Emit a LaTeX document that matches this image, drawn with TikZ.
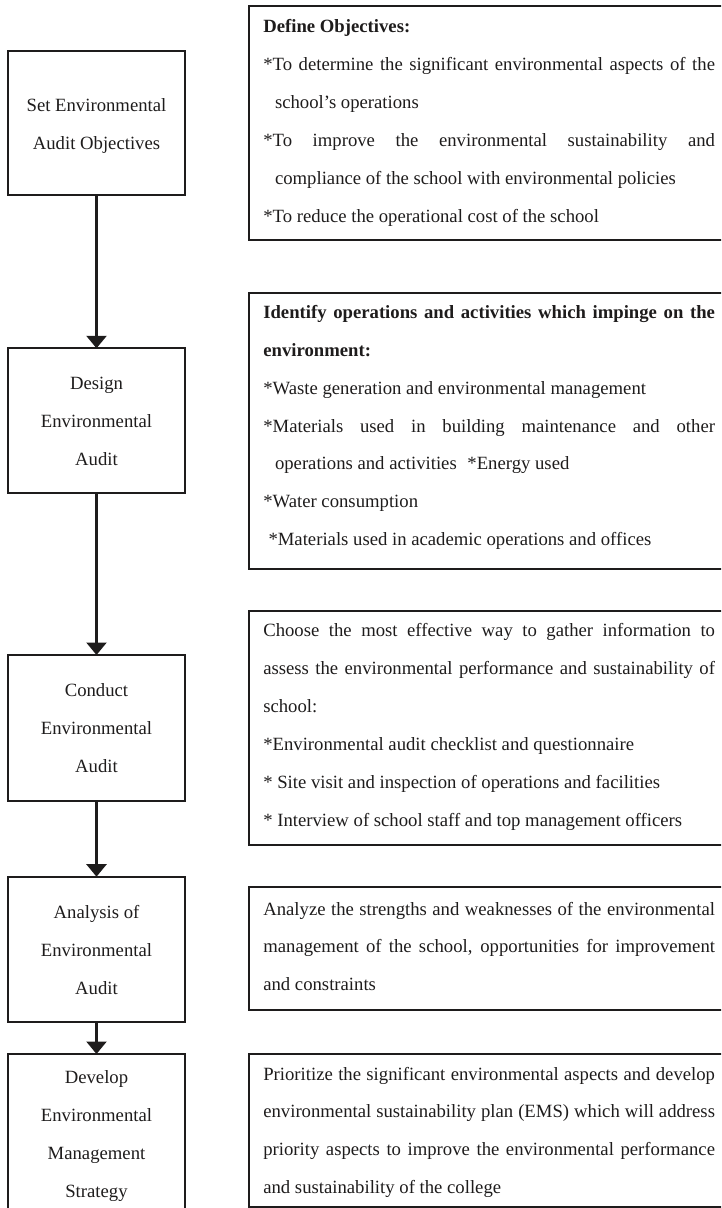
\documentclass[tikz,border=0pt]{standalone}
\usepackage{fontspec}
\setmainfont{Liberation Serif}
\usetikzlibrary{arrows.meta}
\definecolor{ink}{RGB}{30,28,28}
\newcommand\myfs{\fontsize{18.7pt}{37.9pt}\selectfont}
\newcommand\jl[1]{\makebox[451.7pt][s]{#1}}
\begin{document}
\begin{tikzpicture}[x=1pt,y=-1pt,
  box/.style={draw=ink, line width=2pt, inner sep=0pt, outer sep=0pt},
  lt/.style={font=\myfs, text=ink, anchor=base, inner sep=0pt, outer sep=0pt},
  rt/.style={font=\myfs, text=ink, anchor=base west, inner sep=0pt, outer sep=0pt},
  arr/.style={draw=ink, line width=2.3pt, -{Triangle[width=20pt,length=12.5pt]}}]
\useasboundingbox (0,0) rectangle (721,1208);
\clip (0,0) rectangle (721,1208);

% left step boxes
\node[box, minimum width=177pt, minimum height=144.3pt] (L1) at (96.5,122.85) {};
\node[box, minimum width=177pt, minimum height=144.7pt] (L2) at (96.5,420.65) {};
\node[box, minimum width=177pt, minimum height=145.7pt] (L3) at (96.5,727.85) {};
\node[box, minimum width=177pt, minimum height=145.3pt] (L4) at (96.5,949.35) {};
\node[box, minimum width=177pt, minimum height=176pt] (L5) at (96.5,1142) {};

\node[lt] (l1a) at (96.5,111) {Set Environmental};
\node[lt] (l1b) at (96.5,149) {Audit Objectives};

\node[lt] (l2a) at (96.5,389.3) {Design};
\node[lt] (l2b) at (96.5,427.3) {Environmental};
\node[lt] (l2c) at (96.5,465.5) {Audit};

\node[lt] (l3a) at (96.5,696.7) {Conduct};
\node[lt] (l3b) at (96.5,734.5) {Environmental};
\node[lt] (l3c) at (96.5,772.5) {Audit};

\node[lt] (l4a) at (96.5,918) {Analysis of};
\node[lt] (l4b) at (96.5,956) {Environmental};
\node[lt] (l4c) at (96.5,994) {Audit};

\node[lt] (l5a) at (96.5,1083) {Develop};
\node[lt] (l5b) at (96.5,1121) {Environmental};
\node[lt] (l5c) at (96.5,1159) {Management};
\node[lt] (l5d) at (96.5,1197) {Strategy};

% arrows
\draw[arr] (L1.south) -- (L2.north);
\draw[arr] (L2.south) -- (L3.north);
\draw[arr] (L3.south) -- (L4.north);
\draw[arr] (L4.south) -- (L5.north);

% right description boxes
\node[box, minimum width=490.7pt, minimum height=234pt] (R1) at (494.65,123) {};
\node[box, minimum width=490.7pt, minimum height=276.6pt] (R2) at (494.65,431) {};
\node[box, minimum width=490.7pt, minimum height=234pt] (R3) at (494.65,728) {};
\node[box, minimum width=490.7pt, minimum height=122.7pt] (R4) at (494.65,948.65) {};
\node[box, minimum width=490.7pt, minimum height=152.5pt] (R5) at (494.65,1130.25) {};

% R1 text
\node[rt] (r1a) at (263.3,32.7) {\bfseries Define Objectives:};
\node[rt] (r1b) at (263.3,70.6) {\jl{*To determine the significant environmental aspects of the}};
\node[rt] (r1c) at (275,108.5) {school’s operations};
\node[rt] (r1d) at (263.3,146.4) {\jl{*To improve the environmental sustainability and}};
\node[rt] (r1e) at (275,184.3) {compliance of the school with environmental policies};
\node[rt] (r1f) at (263.3,222.2) {*To reduce the operational cost of the school};

% R2 text
\node[rt] (r2a) at (263.3,318.3) {\bfseries\jl{Identify operations and activities which impinge on the}};
\node[rt] (r2b) at (263.3,356.2) {\bfseries environment:};
\node[rt] (r2c) at (263.3,394.1) {*Waste generation and environmental management};
\node[rt] (r2d) at (263.3,432) {\jl{*Materials used in building maintenance and other}};
\node[rt] (r2e) at (275,469.9) {operations and activities\hspace{6pt} *Energy used};
\node[rt] (r2f) at (263.3,507.8) {*Water consumption};
\node[rt] (r2g) at (268.5,545.7) {*Materials used in academic operations and offices};

% R3 text
\node[rt] (r3a) at (263.3,636.7) {\jl{Choose the most effective way to gather information to}};
\node[rt] (r3b) at (263.3,674.6) {\jl{assess the environmental performance and sustainability of}};
\node[rt] (r3c) at (263.3,712.5) {school:};
\node[rt] (r3d) at (263.3,750.4) {*Environmental audit checklist and questionnaire};
\node[rt] (r3e) at (263.3,788.3) {* Site visit and inspection of operations and facilities};
\node[rt] (r3f) at (263.3,826.2) {* Interview of school staff and top management officers};

% R4 text
\node[rt] (r4a) at (263.3,915) {\jl{Analyze the strengths and weaknesses of the environmental}};
\node[rt] (r4b) at (263.3,952.9) {\jl{management of the school, opportunities for improvement}};
\node[rt] (r4c) at (263.3,990.8) {and constraints};

% R5 text
\node[rt] (r5a) at (263.3,1080) {\jl{Prioritize the significant environmental aspects and develop}};
\node[rt] (r5b) at (263.3,1117.9) {\jl{environmental sustainability plan (EMS) which will address}};
\node[rt] (r5c) at (263.3,1155.8) {\jl{priority aspects to improve the environmental performance}};
\node[rt] (r5d) at (263.3,1193.7) {and sustainability of the college};
\end{tikzpicture}
\end{document}
